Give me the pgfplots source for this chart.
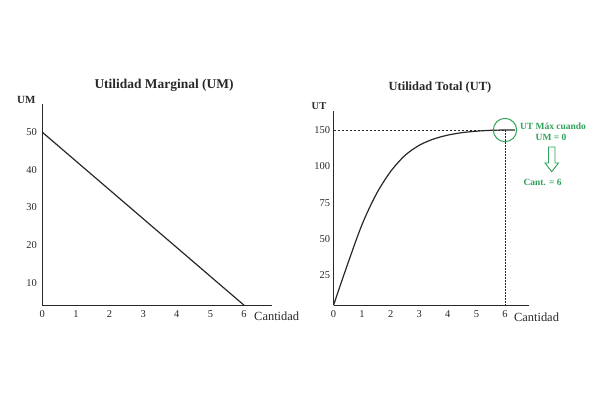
\documentclass[border=0pt]{standalone}
\usepackage{pgfplots}
\pgfplotsset{compat=1.18}
\usepackage{fontspec}
\setmainfont{Liberation Serif}
\definecolor{ink}{RGB}{40,40,40}
\definecolor{verde}{RGB}{46,160,90}

\pgfplotstableread{
q v
0 4.3
0.5 33
1.0 60
1.5 81
2.0 96.5
2.5 115
3.0 129
3.5 137.6
4.0 143
4.5 146.4
5.0 148.4
5.5 149.6
6.0 150
6.35 150
}\utdata

\begin{document}
\begin{tikzpicture}
\useasboundingbox (0,0) rectangle (597bp,397bp);
\pgfplotsset{
  myaxis/.style={
    scale only axis, anchor=south west,
    axis lines=left,
    axis line style={-, ink, line width=1.3bp},
    major tick length=0pt, tick style={draw=none},
    ticklabel style={font=\fontsize{10.5}{12}\selectfont, text=ink},
    xticklabel style={yshift=-2bp},
    /pgf/number format/assume math mode=true,
  }
}
% Left: Utilidad Marginal
\begin{axis}[myaxis, at={(42.3bp,91.7bp)}, width=229.4bp, height=201.3bp,
  xmin=0, xmax=6.82, ymin=4, ymax=57.5,
  xtick={0,...,6}, ytick={10,20,...,50},
  yticklabel style={xshift=-2bp}]
\addplot[ink, line width=1.2bp] coordinates {(0,50) (6,4)};
\end{axis}
% Right: Utilidad Total (vertical scale compressed above 100, as in the reference)
\begin{axis}[myaxis, at={(333.5bp,91.7bp)}, width=195.8bp, height=194.3bp,
  xmin=0, xmax=6.85, ymin=4.3, ymax=176.2,
  y coord trafo/.code={\pgfmathparse{min(#1,100)+max(#1-100,0)/2}},
  y coord inv trafo/.code={\pgfmathparse{min(#1,100)+2*max(#1-100,0)}},
  xtick={0,...,6}, ytick={25,50,75,100,150}, yticklabels={25,50,75,100,150},
  clip=false]
\addplot[ink, line width=0.8bp, dash pattern=on 2.5bp off 1.5bp] coordinates {(0,150) (6,150)};
\addplot[ink, line width=0.9bp, dash pattern=on 1.5bp off 1.5bp] coordinates {(6,150) (6,4.3)};
\addplot[ink, line width=1.2bp, smooth] table[x=q, y=v] {\utdata};
\addplot[only marks, mark=o, mark size=11.7pt, mark options={verde, line width=1bp}] coordinates {(6,150)};
\end{axis}
% Titles and labels
\node[font=\bfseries\fontsize{13.5}{16}\selectfont, text=ink] at (164bp,312bp) {Utilidad Marginal (UM)};
\node[font=\bfseries\fontsize{12.5}{15}\selectfont, text=ink] at (440bp,309bp) {Utilidad Total (UT)};
\node[font=\bfseries\fontsize{11}{13}\selectfont, text=ink] at (26.3bp,297bp) {UM};
\node[font=\bfseries\fontsize{10.5}{13}\selectfont, text=ink] at (319bp,291bp) {UT};
\node[font=\fontsize{12.5}{15}\selectfont, text=ink] at (276.7bp,81bp) {Cantidad};
\node[font=\fontsize{12.5}{15}\selectfont, text=ink] at (536.5bp,80bp) {Cantidad};
% Annotation
\node[font=\bfseries\fontsize{9.5}{11}\selectfont, text=verde] at (553bp,271bp) {UT Máx cuando};
\node[font=\bfseries\fontsize{9.5}{11}\selectfont, text=verde] at (551bp,260bp) {UM = 0};
\node[font=\bfseries\fontsize{9.5}{11}\selectfont, text=verde] at (542.5bp,215bp) {Cant. = 6};
\draw[verde, line width=0.9bp, fill=white] (548.5bp,250bp) -- (548.5bp,234bp) -- (545bp,234bp) -- (551.7bp,225.3bp) -- (558.5bp,234bp) -- (555bp,234bp) -- (555bp,250bp) -- cycle;
\end{tikzpicture}
\end{document}
